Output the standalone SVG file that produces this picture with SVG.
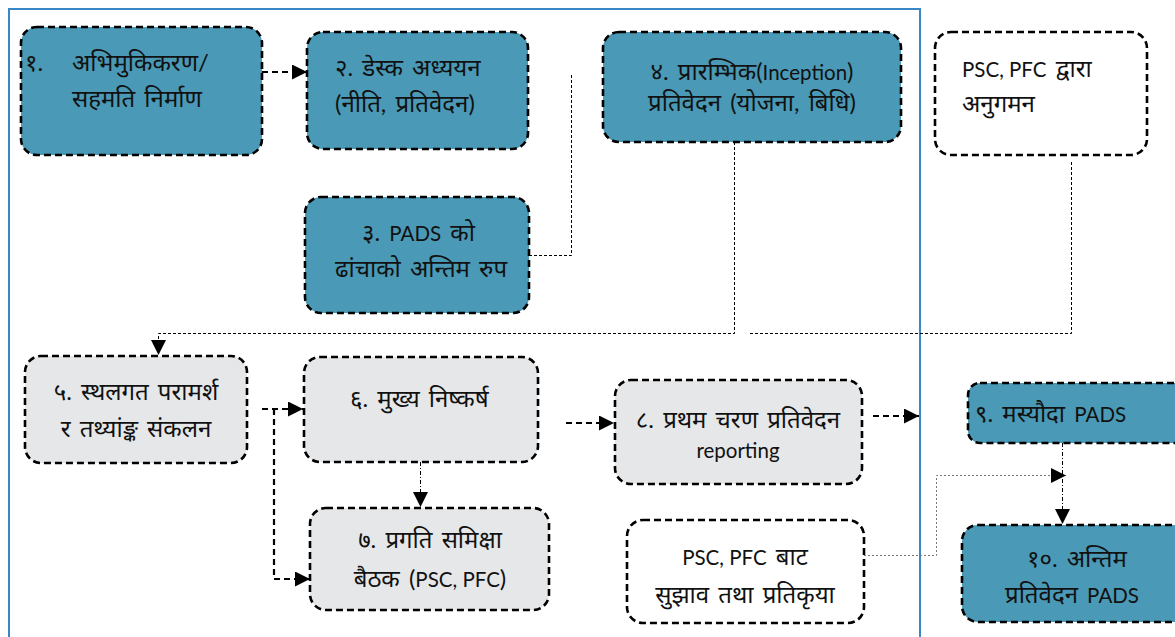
<svg xmlns="http://www.w3.org/2000/svg" width="1175" height="637" viewBox="0 0 1175 637">
<defs>
<style>
.box{stroke:#000;stroke-width:2.6;stroke-dasharray:7 4}
.teal{fill:#4a99b6}
.gray{fill:#e6e7e9}
.white{fill:#fff}
text{font-family:"Lato","Noto Sans Devanagari","Noto Sans",sans-serif;font-size:24px;word-spacing:3px;fill:#111}
.l{font-size:20.5px;word-spacing:0}
.thick{fill:none;stroke:#000;stroke-width:2.2;stroke-dasharray:6 4}
.thin{fill:none;stroke:#000;stroke-width:1;stroke-dasharray:3 2}
.dd{fill:none;stroke:#000;stroke-width:1;stroke-dasharray:4 2 1 2}
.grey{fill:none;stroke:#777;stroke-width:1;stroke-dasharray:2 2}
</style>
<marker id="ah" viewBox="0 0 10 10" refX="10" refY="5" markerWidth="15" markerHeight="15" markerUnits="userSpaceOnUse" orient="auto">
<path d="M0,0 L10,5 L0,10 z" fill="#000"/>
</marker>
<marker id="ahs" viewBox="0 0 10 10" refX="10" refY="5" markerWidth="15" markerHeight="15" markerUnits="userSpaceOnUse" orient="auto">
<path d="M0,0 L10,5 L0,10 z" fill="#000"/>
</marker>
</defs>
<rect width="1175" height="637" fill="#fff"/>
<path d="M9,645 V9 H920 V645" fill="none" stroke="#3a87c8" stroke-width="2"/>

<g id="connectors">
<path class="thick" d="M262,72 H307" marker-end="url(#ah)"/>
<path class="thin" d="M529,255.5 H571.5 V74"/>
<path class="thin" d="M734.5,142 V333.5 H158.5 V355" marker-end="url(#ahs)"/>
<path class="thin" d="M1071.5,162 V333.5 H748"/>
<path class="thick" d="M262,409 H303" marker-end="url(#ah)"/>
<path class="thick" d="M274,409 V579 H310" marker-end="url(#ah)"/>
<path class="dd" d="M420.5,462 V507" marker-end="url(#ahs)"/>
<path class="thick" d="M566,423 H614" marker-end="url(#ah)"/>
<path class="thick" d="M873,416 H919" marker-end="url(#ah)"/>
<path class="grey" d="M864,555.5 H936.5 V475.5 H1066" marker-end="url(#ahs)"/>
<path class="dd" d="M1062.5,443 V524" marker-end="url(#ahs)"/>
</g>

<g id="n1">
<rect class="box teal" x="21" y="27" width="241" height="128" rx="16"/>
<text x="25" y="71">१.</text>
<text x="72" y="71">अभिमुकिकरण/</text>
<text x="72" y="107">सहमति निर्माण</text>
</g>
<g id="n2">
<rect class="box teal" x="307" y="32" width="221" height="117" rx="16"/>
<text x="335" y="76">२. डेस्क अध्ययन</text>
<text x="335" y="112">(नीति, प्रतिवेदन)</text>
</g>
<g id="n3">
<rect class="box teal" x="305" y="197" width="224" height="116" rx="16"/>
<text x="362" y="241">३. <tspan class="l">PADS</tspan> को</text>
<text x="335" y="277">ढांचाको अन्तिम रुप</text>
</g>
<g id="n4">
<rect class="box teal" x="603" y="32" width="298" height="110" rx="16"/>
<text x="752" y="80" text-anchor="middle">४. प्रारम्भिक(<tspan class="l">Inception</tspan>)</text>
<text x="752" y="111" text-anchor="middle">प्रतिवेदन (योजना, बिधि)</text>
</g>
<g id="n_psc1">
<rect class="box white" x="935" y="32" width="212" height="123" rx="16"/>
<text x="962" y="77"><tspan class="l">PSC, PFC</tspan> द्वारा</text>
<text x="962" y="112">अनुगमन</text>
</g>
<g id="n5">
<rect class="box gray" x="25" y="356" width="222" height="107" rx="16"/>
<text x="136" y="400" text-anchor="middle">५. स्थलगत परामर्श</text>
<text x="136" y="437" text-anchor="middle">र तथ्यांङ्क संकलन</text>
</g>
<g id="n6">
<rect class="box gray" x="304" y="357" width="234" height="105" rx="16"/>
<text x="350" y="407">६. मुख्य निष्कर्ष</text>
</g>
<g id="n7">
<rect class="box gray" x="310" y="508" width="239" height="102" rx="16"/>
<text x="430" y="548" text-anchor="middle">७. प्रगति समिक्षा</text>
<text x="430" y="587" text-anchor="middle">बैठक (<tspan class="l">PSC, PFC</tspan>)</text>
</g>
<g id="n8">
<rect class="box gray" x="615" y="380" width="247" height="104" rx="16"/>
<text x="738" y="428" text-anchor="middle">८. प्रथम चरण प्रतिवेदन</text>
<text x="738" y="458" text-anchor="middle" class="l">reporting</text>
</g>
<g id="n_psc2">
<rect class="box white" x="627" y="520" width="237" height="103" rx="16"/>
<text x="745" y="565" text-anchor="middle"><tspan class="l">PSC, PFC</tspan> बाट</text>
<text x="745" y="603" text-anchor="middle">सुझाव तथा प्रतिकृया</text>
</g>
<g id="n9">
<rect class="box teal" x="968" y="383" width="225" height="60" rx="12"/>
<text x="975" y="422">९. मस्यौदा <tspan class="l">PADS</tspan></text>
</g>
<g id="n10">
<rect class="box teal" x="962" y="525" width="231" height="97" rx="16"/>
<text x="1027" y="567">१०. अन्तिम</text>
<text x="1005" y="603">प्रतिवेदन <tspan class="l">PADS</tspan></text>
</g>
</svg>
